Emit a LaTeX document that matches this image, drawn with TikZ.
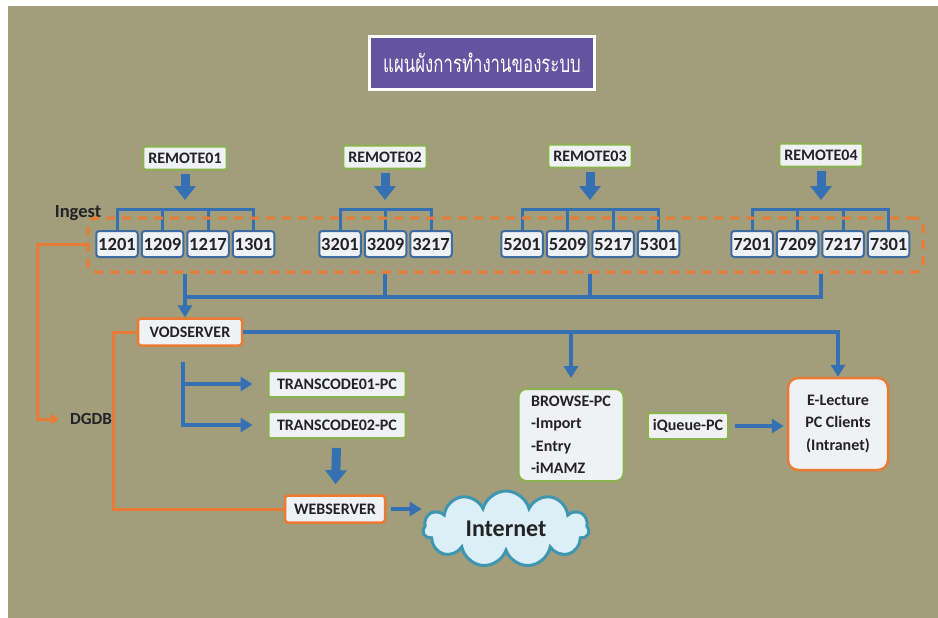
\documentclass[tikz,border=0pt]{standalone}
\usepackage{fontspec}
\setmainfont{Carlito}
\newfontfamily\thaifont[Script=Thai,FakeStretch=0.7]{Loma}
\usetikzlibrary{positioning}
\usetikzlibrary{arrows.meta}
\usetikzlibrary{shapes.symbols}

\definecolor{bgkhaki}{RGB}{162,157,123}
\definecolor{lineblue}{RGB}{52,112,178}
\definecolor{boxblue}{RGB}{62,108,160}
\definecolor{lineorange}{RGB}{234,122,52}
\definecolor{boxgreen}{RGB}{138,178,78}
\definecolor{boxfill}{RGB}{240,241,244}
\definecolor{titlepurple}{RGB}{100,84,160}
\definecolor{cloudfill}{RGB}{220,238,246}
\definecolor{cloudedge}{RGB}{62,150,176}
\definecolor{inktext}{RGB}{35,35,38}

\begin{document}
\begin{tikzpicture}[x=1pt,y=-1pt,>={Triangle[length=12pt,width=14pt]},
	font=\bfseries\fontsize{16}{22.5}\selectfont,text=inktext,
	num node/.style={draw=boxblue,fill=boxfill,line width=2pt,rounded corners=3pt,
		minimum width=41.5pt,minimum height=26pt,inner sep=1pt,font=\bfseries\fontsize{18.5}{20}\selectfont},
	green node/.style={draw=boxgreen,fill=boxfill,line width=2pt,rounded corners=2pt,
		inner xsep=5pt,minimum height=23pt},
	orange node/.style={draw=lineorange,fill=boxfill,line width=2.5pt,rounded corners=3pt,
		inner xsep=5pt,minimum height=27pt},
	blue line/.style={draw=lineblue,line width=4pt},
	bracket line/.style={draw=lineblue,line width=3pt},
	fat arrow/.style={draw=lineblue,line width=9pt,-{Triangle[length=14pt,width=21pt]}},
	remote arrow/.style={fat arrow,shorten <=3pt,shorten >=9pt},
	orange line/.style={draw=lineorange,line width=3pt}]
	
	\useasboundingbox (0,0) rectangle (938,618);
	\fill[white] (0,0) rectangle (938,618);
	\fill[bgkhaki] (8,6) rectangle (938,618);
	
	\node[fill=titlepurple,draw=white,line width=3pt,minimum width=225pt,minimum height=53pt,
		text=white,font=\thaifont\fontsize{24}{26}\selectfont] (title) at (482,63) {แผนผังการทำงานของระบบ};
	
	\node[green node] (rem1) at (185,158) {REMOTE01};
	\node[green node] (rem2) at (385,157) {REMOTE02};
	\node[green node] (rem3) at (590,156) {REMOTE03};
	\node[green node] (rem4) at (821,155) {REMOTE04};
	
	\node[num node] (n1201) at (117,244) {1201};
	\node[num node] (n1209) [right=2pt of n1201] {1209};
	\node[num node] (n1217) [right=2pt of n1209] {1217};
	\node[num node] (n1301) [right=2pt of n1217] {1301};
	\node[num node] (n3201) at (340,244) {3201};
	\node[num node] (n3209) [right=2pt of n3201] {3209};
	\node[num node] (n3217) [right=2pt of n3209] {3217};
	\node[num node] (n5201) at (522,244) {5201};
	\node[num node] (n5209) [right=2pt of n5201] {5209};
	\node[num node] (n5217) [right=2pt of n5209] {5217};
	\node[num node] (n5301) [right=2pt of n5217] {5301};
	\node[num node] (n7201) at (752,244) {7201};
	\node[num node] (n7209) [right=2pt of n7201] {7209};
	\node[num node] (n7217) [right=2pt of n7209] {7217};
	\node[num node] (n7301) [right=2pt of n7217] {7301};
	
	\node[font=\bfseries\fontsize{18.5}{20}\selectfont] (ingest) at (78,213) {Ingest};
	\node[font=\bfseries\fontsize{17}{20}\selectfont] (dgdb) [inner sep=2pt] at (91,419) {DGDB};
	
	\node[orange node,minimum width=104pt] (vod) at (190,332) {VODSERVER};
	\node[green node,minimum width=137pt,minimum height=26pt] (tc1) at (337,384) {TRANSCODE01-PC};
	\node[green node,minimum width=137pt,minimum height=26pt] (tc2) at (337,425) {TRANSCODE02-PC};
	\node[orange node,minimum width=100pt] (web) at (335,509) {WEBSERVER};
	\node[green node,align=left,rounded corners=8pt,minimum width=105pt,minimum height=92pt] (browse)
		at (571,435) {BROWSE-PC\\-Import\\-Entry\\-iMAMZ};
	\node[green node,minimum height=26pt] (iq) at (688,426) {iQueue-PC};
	\node[orange node,align=center,rounded corners=10pt,minimum width=100pt,minimum height=92pt] (elec)
		at (838,424) {E-Lecture\\PC Clients\\(Intranet)};
	\node[cloud,cloud puffs=11,cloud ignores aspect,draw=cloudedge,fill=cloudfill,line width=3pt,
		minimum width=166pt,minimum height=76pt,font=\bfseries\fontsize{24}{26}\selectfont] (net)
		at (506,529) {Internet};
	
	% brackets over the ingest ports
	\coordinate (bar) at (0,209);
	\draw[bracket line] (n1201.north) |- (n1301.north |- bar) -- (n1301.north);
	\draw[bracket line] (n3201.north) |- (n3217.north |- bar) -- (n3217.north);
	\draw[bracket line] (n5201.north) |- (n5301.north |- bar) -- (n5301.north);
	\draw[bracket line] (n7201.north) |- (n7301.north |- bar) -- (n7301.north);
	\path[bracket line]
	(n1209.north) edge (n1209.north |- bar)
	(n1217.north) edge (n1217.north |- bar)
	(n3209.north) edge (n3209.north |- bar)
	(n5209.north) edge (n5209.north |- bar)
	(n5217.north) edge (n5217.north |- bar)
	(n7209.north) edge (n7209.north |- bar)
	(n7217.north) edge (n7217.north |- bar)
	;
	\path
	(rem1.south) edge[remote arrow] (rem1 |- bar)
	(rem2.south) edge[remote arrow] (rem2 |- bar)
	(rem3.south) edge[remote arrow] (rem3 |- bar)
	(rem4.south) edge[remote arrow] (rem4 |- bar)
	;
	
	\node[draw=lineorange,line width=3pt,dash pattern=on 9pt off 7pt,rounded corners=8pt,
		minimum width=835pt,minimum height=54pt] (ingestbox) at (505.5,245) {};
	
	% collecting bus down to the vod server
	\coordinate (bus) at (0,297);
	\draw[blue line] (rem4 |- ingestbox.south) |- (rem1 |- bus);
	\draw[blue line,->] (rem1 |- ingestbox.south) -- (rem1 |- vod.north);
	\path
	(rem2 |- ingestbox.south) edge[blue line] (rem2 |- bus)
	(rem3 |- ingestbox.south) edge[blue line] (rem3 |- bus)
	;
	
	\draw[blue line,->] (vod.east) -| (elec.north);
	\draw[blue line,->,shorten >=10pt] (browse.north |- vod.east) -- (browse.north);
	
	\coordinate (split) at (183,362);
	\draw[blue line,->,shorten >=15pt] (split) |- (tc2);
	\draw[blue line,->,shorten >=15pt] (split |- tc1) -- (tc1);
	\draw[fat arrow,shorten <=9pt,shorten >=10pt] (tc2) -- (web);
	\draw[blue line,->,shorten <=5pt] (web.east) -- (net.west |- web.east);
	\draw[blue line,->,shorten <=6pt,shorten >=3pt] (iq.east) -- (iq.east -| elec.west);
	
	% orange links
	\coordinate (dbend) at (37,0);
	\coordinate (vbend) at (113,0);
	\draw[orange line,-{Triangle[length=8pt,width=10pt]},shorten >=9pt]
	(ingestbox.west |- n1201) -- (dbend |- n1201) |- (dgdb.west);
	\draw[orange line] (vod.west) -- (vbend |- vod.west) |- (web.west);
\end{tikzpicture}
\end{document}
